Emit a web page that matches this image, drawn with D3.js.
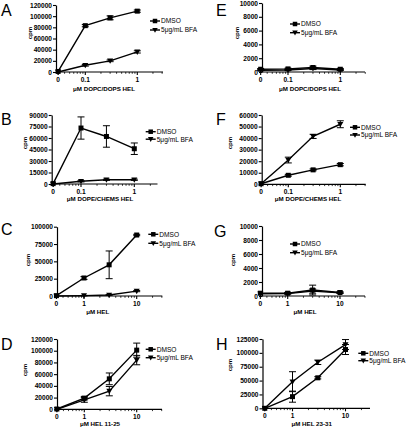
<!DOCTYPE html>
<html><head><meta charset="utf-8">
<script src="https://cdn.jsdelivr.net/npm/d3@7"></script>
<style>body{margin:0;background:#fff} svg{display:block}</style>
</head><body>
<script>
// ---------- DATA ----------
const xLipid = [0, 0.1, 0.3, 1];
const xPeptide = [0, 1, 3, 10];
const seriesNames = ["DMSO", "5\u03bcg/mL BFA"];
const panelLetters = ["A", "B", "C", "D", "E", "F", "G", "H"];
const xTitles = ["\u03bcM DOPC/DOPS HEL", "\u03bcM DOPE/CHEMS HEL", "\u03bcM HEL", "\u03bcM HEL 11-25",
                 "\u03bcM DOPC/DOPS HEL", "\u03bcM DOPE/CHEMS HEL", "\u03bcM HEL", "\u03bcM HEL 23-31"];
const yMaxes = [120000, 90000, 100000, 120000, 10000, 60000, 10000, 125000];
const ySteps = [20000, 15000, 25000, 20000, 2000, 10000, 2000, 25000];

const dmsoA = [1000, 83000, 97000, 109000],  dmsoErrA = [0, 2000, 3500, 2000];
const bfaA  = [0, 12000, 20000, 36000],      bfaErrA  = [0, 1500, 1500, 2000];
const dmsoB = [500, 73000, 62000, 46000],    dmsoErrB = [0, 14500, 14000, 7500];
const bfaB  = [0, 3500, 5500, 5500],         bfaErrB  = [0, 800, 800, 800];
const dmsoC = [500, 26000, 45000, 88000],    dmsoErrC = [0, 2000, 20000, 1000];
const bfaC  = [0, 500, 1500, 7000],          bfaErrC  = [0, 300, 500, 800];
const dmsoD = [500, 19000, 52000, 101000],   dmsoErrD = [0, 3000, 10000, 12000];
const bfaD  = [0, 16000, 31000, 84000],      bfaErrD  = [0, 4000, 8000, 8000];
const dmsoE = [400, 450, 650, 400],          dmsoErrE = [100, 100, 200, 100];
const bfaE  = [250, 300, 500, 300],          bfaErrE  = [50, 80, 150, 80];
const dmsoF = [500, 7800, 12500, 17000],     dmsoErrF = [0, 800, 800, 1000];
const bfaF  = [500, 21000, 41500, 52000],    bfaErrF  = [0, 2500, 1800, 3000];
const dmsoG = [400, 400, 850, 500],          dmsoErrG = [0, 100, 700, 100];
const bfaG  = [300, 350, 700, 450],          bfaErrG  = [0, 80, 300, 80];
const dmsoH = [0, 21000, 55000, 106000],     dmsoErrH = [0, 10000, 2000, 9000];
const bfaH  = [0, 48000, 83000, 115000],     bfaErrH  = [0, 18000, 4000, 9000];

const panelData = [
  {x: xLipid,   dmso: dmsoA, dmsoErr: dmsoErrA, bfa: bfaA, bfaErr: bfaErrA},
  {x: xLipid,   dmso: dmsoB, dmsoErr: dmsoErrB, bfa: bfaB, bfaErr: bfaErrB},
  {x: xPeptide, dmso: dmsoC, dmsoErr: dmsoErrC, bfa: bfaC, bfaErr: bfaErrC},
  {x: xPeptide, dmso: dmsoD, dmsoErr: dmsoErrD, bfa: bfaD, bfaErr: bfaErrD},
  {x: xLipid,   dmso: dmsoE, dmsoErr: dmsoErrE, bfa: bfaE, bfaErr: bfaErrE},
  {x: xLipid,   dmso: dmsoF, dmsoErr: dmsoErrF, bfa: bfaF, bfaErr: bfaErrF},
  {x: xPeptide, dmso: dmsoG, dmsoErr: dmsoErrG, bfa: bfaG, bfaErr: bfaErrG},
  {x: xPeptide, dmso: dmsoH, dmsoErr: dmsoErrH, bfa: bfaH, bfaErr: bfaErrH},
];

// ---------- LAYOUT (pixels) ----------
const layout = [
  {ax: 56,  p1: 85.3,  p2: 137.3, xend: 163,   ytop: 5,   y0: 72,    letter: [1, 16],    cpm: [30, 33],   leg: [155, 21, 9],   title: [104, 89]},
  {ax: 51.7,p1: 81,    p2: 134.3, xend: 157.5, ytop: 115, y0: 184,   letter: [1, 125],   cpm: [25, 143],  leg: [150.7, 131.7, 7.5], title: [100, 199.3]},
  {ax: 57,  p1: 84,    p2: 136.7, xend: 162.3, ytop: 226.7, y0: 296, letter: [1, 235],   cpm: [28, 260],  leg: [153.3, 234.3, 9], title: [97.7, 312.3]},
  {ax: 57,  p1: 84.3,  p2: 136.7, xend: 162,   ytop: 339, y0: 409.3, letter: [1, 349.5], cpm: [25, 370],  leg: [150.7, 349.3, 8.4], title: [100, 423.7]},
  {ax: 262, p1: 288,   p2: 340.3, xend: 365,   ytop: 3,   y0: 72,    letter: [216, 16],  cpm: [236.7, 33],leg: [295, 24, 8.7],  title: [310, 89]},
  {ax: 261.7,p1: 288.3,p2: 340.3, xend: 365.7, ytop: 115, y0: 184.3, letter: [216, 125], cpm: [230, 143], leg: [355, 127.3, 7.7], title: [308, 199.3]},
  {ax: 262, p1: 287.7, p2: 340,   xend: 365,   ytop: 226, y0: 296,   letter: [214, 237], cpm: [233, 260], leg: [295, 244, 8.7],  title: [305, 312.3]},
  {ax: 262.5,p1: 292.5,p2: 345.5, xend: 370,   ytop: 339, y0: 408.3, letter: [216, 349.5], cpm: [230, 365], leg: [363.3, 353.3, 7.4], title: [311.7, 423.7]},
];

const W = 410, H = 428;
const FONT = "'Liberation Sans', Arial, Helvetica, sans-serif";
const svg = d3.select("body").append("svg").attr("width", W).attr("height", H)
  .style("font-family", FONT);

function squarePath(cx, cy, s) { return `M${cx - s/2},${cy - s/2}h${s}v${s}h${-s}Z`; }
function triPath(cx, cy, s) { return `M${cx - s/2},${cy - s*0.38}L${cx + s/2},${cy - s*0.38}L${cx},${cy + s*0.5}Z`; }

panelData.forEach((pd, i) => {
  const L = layout[i];
  const g = svg.append("g");
  const d1 = pd.x[1], d2 = pd.x[3];
  const x = d3.scaleLog().domain([d1, d2]).range([L.p1, L.p2]);
  const zeroStand = d1 * 0.3;
  const xv = v => v === 0 ? x(zeroStand) : x(v);
  const y = d3.scaleLinear().domain([0, yMaxes[i]]).range([L.y0, L.ytop]);

  // y axis
  const yTicks = d3.range(0, yMaxes[i] + 1, ySteps[i]);
  const yAx = g.append("g").attr("transform", `translate(${L.ax},0)`)
    .call(d3.axisLeft(y).tickValues(yTicks).tickSize(3).tickSizeOuter(0).tickPadding(1).tickFormat(d3.format("d")));
  yAx.select(".domain").attr("stroke-width", 1.2);
  yAx.selectAll(".tick line").attr("stroke-width", 1.1);
  yAx.selectAll("text").attr("font-size", 6.6).attr("font-weight", "bold").attr("font-family", FONT).attr("fill", "#000");

  // x axis
  g.append("line").attr("x1", L.ax).attr("x2", L.xend).attr("y1", L.y0).attr("y2", L.y0)
    .attr("stroke", "#000").attr("stroke-width", 1.2);
  const majors = [zeroStand, d1, d2];
  const minors = [];
  [d1 * 0.1, d1, d2].forEach(dec => {
    for (let k = 2; k <= 9; k++) {
      const v = dec * k;
      if (v > zeroStand * 1.01 && x(v) <= L.xend + 0.5 && v !== d1 && v !== d2) minors.push(v);
    }
  });
  g.selectAll(".minor").data(minors).enter().append("line")
    .attr("x1", d => x(d)).attr("x2", d => x(d)).attr("y1", L.y0).attr("y2", L.y0 + 1.8)
    .attr("stroke", "#000").attr("stroke-width", 0.8);
  g.selectAll(".major").data(majors).enter().append("line")
    .attr("x1", d => x(d)).attr("x2", d => x(d)).attr("y1", L.y0).attr("y2", L.y0 + 3)
    .attr("stroke", "#000").attr("stroke-width", 1.1);
  g.selectAll(".xlab").data(pd.x.filter((v, j) => j !== 2)).enter().append("text")
    .attr("x", d => xv(d)).attr("y", L.y0 + 9.5).attr("text-anchor", "middle")
    .attr("font-size", 6.6).attr("font-weight", "bold").text(d => String(d));

  // titles
  g.append("text").attr("x", L.title[0]).attr("y", L.title[1]).attr("dy", "0.35em")
    .attr("text-anchor", "middle").attr("font-size", 6.2).attr("font-weight", "bold").text(xTitles[i]);
  g.append("text").attr("transform", `translate(${L.cpm[0]},${L.cpm[1]}) rotate(-90)`)
    .attr("dy", "0.35em").attr("text-anchor", "middle").attr("font-size", 6.2).attr("font-weight", "bold").text("cpm");
  g.append("text").attr("x", L.letter[0]).attr("y", L.letter[1]).attr("font-size", 16)
    .attr("font-family", "'Liberation Sans', Arial, sans-serif").text(panelLetters[i]);

  // series
  const series = [
    {vals: pd.dmso, err: pd.dmsoErr, shape: squarePath, size: 5},
    {vals: pd.bfa,  err: pd.bfaErr,  shape: triPath,    size: 6},
  ];
  const line = d3.line().x(d => xv(d[0])).y(d => y(d[1]));
  series.forEach(s => {
    const pts = pd.x.map((xx, j) => [xx, s.vals[j], s.err[j]]);
    g.append("path").attr("d", line(pts)).attr("fill", "none").attr("stroke", "#000").attr("stroke-width", 1.4);
    pts.forEach(p => {
      if (p[2] > 0) {
        const cx = xv(p[0]);
        const yt = y(p[1] + p[2]), yb = y(Math.max(0, p[1] - p[2]));
        g.append("path").attr("d", `M${cx},${yt}V${yb}M${cx - 3.5},${yt}h7M${cx - 3.5},${yb}h7`)
          .attr("stroke", "#000").attr("stroke-width", 1).attr("fill", "none");
      }
    });
    g.selectAll(null).data(pts).enter().append("path")
      .attr("d", p => s.shape(xv(p[0]), y(p[1]), s.size)).attr("fill", "#000");
  });

  // legend
  const [lx, ly, ldy] = L.leg;
  series.forEach((s, k) => {
    const yy = ly + k * ldy;
    g.append("line").attr("x1", lx - 5).attr("x2", lx + 5).attr("y1", yy).attr("y2", yy)
      .attr("stroke", "#000").attr("stroke-width", 1.4);
    g.append("path").attr("d", s.shape(lx, yy, s.size - 0.5)).attr("fill", "#000");
    g.append("text").attr("x", lx + 6).attr("y", yy).attr("dy", "0.35em")
      .attr("font-size", 6.6).text(seriesNames[k]);
  });
});
</script>
</body></html>
